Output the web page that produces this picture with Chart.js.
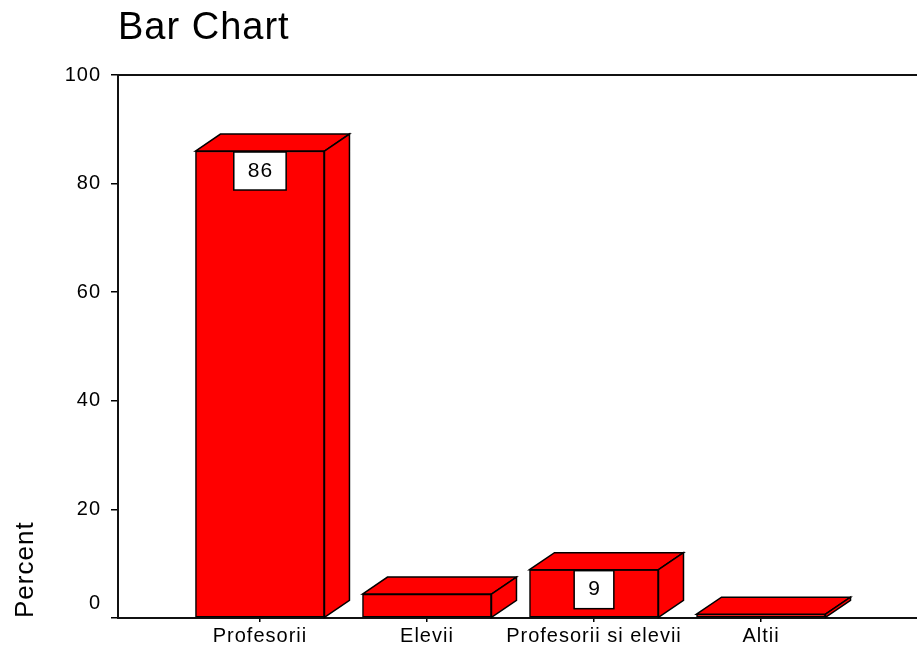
<!DOCTYPE html>
<html><head><meta charset="utf-8">
<script src="https://cdn.jsdelivr.net/npm/chart.js@4/dist/chart.umd.min.js"></script>
<style>html,body{margin:0;padding:0;background:#fff;overflow:hidden}canvas{display:block}</style>
</head><body>
<canvas id="c" width="917" height="651"></canvas>
<script>
const categories = ["Profesorii", "Elevii", "Profesorii si elevii", "Altii"];
const percentValues = [86.0, 4.4, 8.9, 0.7];
const barLabels = ["86", "", "9", ""];
const yTickValues = [0, 20, 40, 60, 80, 100];

const FONT = "'Liberation Sans', Arial, sans-serif";
const DX = 25, DY = 17;

const bar3d = {
  id: 'bar3d',
  beforeUpdate(chart) { chart.ctx.letterSpacing = '1px'; },
  beforeDraw(chart) { chart.ctx.letterSpacing = '1px'; },
  afterDraw(chart) {
    const ctx = chart.ctx;
    const a = chart.chartArea;
    ctx.save();
    ctx.strokeStyle = '#111';
    ctx.lineWidth = 2;
    ctx.beginPath();
    ctx.moveTo(a.left - 1, a.top);
    ctx.lineTo(a.right, a.top);
    ctx.stroke();
    ctx.restore();
  },
  afterDatasetsDraw(chart) {
    const ctx = chart.ctx;
    const meta = chart.getDatasetMeta(0);
    ctx.save();
    ctx.lineWidth = 1.5;
    ctx.strokeStyle = '#000';
    ctx.lineJoin = 'miter';
    meta.data.forEach((bar, i) => {
      const p = bar.getProps(['x', 'y', 'base', 'width'], true);
      const L = p.x - p.width / 2, R = p.x + p.width / 2;
      const y = p.y, b = p.base;
      ctx.fillStyle = '#ff0000';
      ctx.beginPath();
      ctx.moveTo(L, y); ctx.lineTo(L + DX, y - DY); ctx.lineTo(R + DX, y - DY); ctx.lineTo(R, y);
      ctx.closePath(); ctx.fill(); ctx.stroke();
      ctx.beginPath();
      ctx.moveTo(R, y); ctx.lineTo(R + DX, y - DY); ctx.lineTo(R + DX, b - DY); ctx.lineTo(R, b);
      ctx.closePath(); ctx.fill(); ctx.stroke();
      const txt = barLabels[i];
      if (txt) {
        ctx.font = '21px ' + FONT;
        ctx.letterSpacing = '1px';
        const tw = ctx.measureText(txt).width;
        const bw = tw + 27, bh = 38;
        const bx = p.x - bw / 2, by = y + 1;
        ctx.fillStyle = '#fff';
        ctx.fillRect(bx, by, bw, bh);
        ctx.strokeRect(bx, by, bw, bh);
        ctx.fillStyle = '#000';
        ctx.textAlign = 'center';
        ctx.textBaseline = 'middle';
        ctx.fillText(txt, p.x + 0.5, by + bh / 2);
      }
    });
    ctx.restore();
  }
};

new Chart(document.getElementById('c'), {
  type: 'bar',
  data: {
    datasets: [{
      data: categories.map((c, i) => ({ x: i + 1, y: percentValues[i] })),
      backgroundColor: '#ff0000',
      borderColor: '#000',
      borderWidth: 1.5,
      borderSkipped: false,
      barThickness: 129
    }]
  },
  options: {
    responsive: false,
    animation: false,
    layout: { padding: 0 },
    plugins: {
      legend: { display: false },
      tooltip: { enabled: false },
      title: {
        display: true,
        text: 'Bar Chart',
        align: 'start',
        fullSize: false,
        color: '#000',
        font: { family: FONT, size: 38, weight: 'normal', lineHeight: 1.2 },
        padding: { top: 6, bottom: 23.4 }
      }
    },
    scales: {
      x: {
        type: 'linear',
        min: 0.15,
        max: 4.934,
        offset: false,
        afterBuildTicks: (axis) => { axis.ticks = categories.map((c, i) => ({ value: i + 1 })); },
        afterFit: (axis) => { axis.height = 33; },
        grid: { display: true, drawOnChartArea: false, offset: false, tickLength: 4, color: '#000', lineWidth: 1.5 },
        border: { display: true, color: '#111', width: 2 },
        ticks: {
          autoSkip: false, maxRotation: 0, minRotation: 0, padding: 2,
          color: '#000',
          font: { family: FONT, size: 20 },
          callback: (v) => categories[Math.round(v) - 1] || ''
        }
      },
      y: {
        min: 0,
        max: 100,
        afterBuildTicks: (axis) => { axis.ticks = yTickValues.map(v => ({ value: v })); },
        afterFit: (axis) => { axis.width = 118; axis.paddingBottom = 0; },
        grid: { display: true, drawOnChartArea: false, tickLength: 7, color: '#000', lineWidth: 1.5 },
        border: { display: true, color: '#111', width: 2 },
        ticks: {
          padding: 10,
          color: '#000',
          font: { family: FONT, size: 20, lineHeight: 1.5 },
          callback: (v) => (v === 0 ? ['0', ''] : String(v))
        },
        title: {
          display: true,
          text: 'Percent',
          align: 'start',
          color: '#000',
          font: { family: FONT, size: 26 },
          padding: { top: 10, bottom: 0 }
        }
      }
    }
  },
  plugins: [bar3d]
});
</script>
</body></html>
